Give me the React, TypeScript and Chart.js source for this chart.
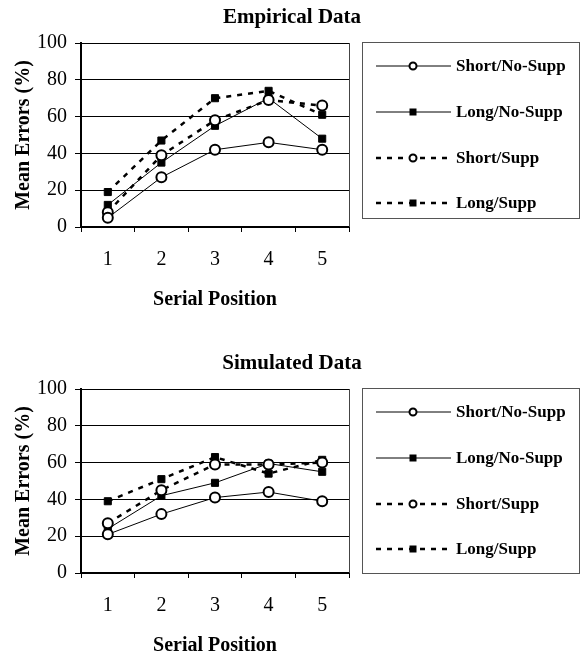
import React, { useEffect, useRef } from 'react';
import { Chart, registerables } from 'chart.js';

Chart.register(...registerables);

// ---------- data ----------
const categories = ['1', '2', '3', '4', '5'];
const seriesNames = ['Short/No-Supp', 'Long/No-Supp', 'Short/Supp', 'Long/Supp'];
const yTicks = [0, 20, 40, 60, 80, 100];

// Empirical Data
const empShortNoSupp = [5, 27, 42, 46, 42];
const empLongNoSupp = [12, 35, 55, 70, 48];
const empShortSupp = [8, 39, 58, 69, 66];
const empLongSupp = [19, 47, 70, 74, 61];

// Simulated Data
const simShortNoSupp = [21, 32, 41, 44, 39];
const simLongNoSupp = [24, 42, 49, 59.5, 55];
const simShortSupp = [27, 45, 59, 59, 60];
const simLongSupp = [39, 51, 63, 54, 61.5];

// ---------- styles ----------
const SERIF = "'Liberation Serif', 'Times New Roman', Times, serif";
const seriesStyles = [
  { dash: [] as number[], width: 1, point: 'circle', fill: '#ffffff' },
  { dash: [] as number[], width: 1, point: 'rect', fill: '#000000' },
  { dash: [5, 6], width: 2.5, point: 'circle', fill: '#ffffff' },
  { dash: [5, 6], width: 2.5, point: 'rect', fill: '#000000' },
];

const decorPlugin = {
  id: 'decor',
  beforeDatasetsDraw(chart: any) {
    const { ctx, chartArea } = chart;
    ctx.save();
    ctx.strokeStyle = '#444';
    ctx.lineWidth = 1;
    ctx.beginPath();
    ctx.moveTo(Math.round(chartArea.right) + 0.5, chartArea.top);
    ctx.lineTo(Math.round(chartArea.right) + 0.5, chartArea.bottom);
    ctx.stroke();
    ctx.restore();
  },
  afterDraw(chart: any, _args: any, opts: any) {
    const { ctx } = chart;
    ctx.save();
    // title
    ctx.fillStyle = '#000';
    ctx.font = `bold 21px ${SERIF}`;
    ctx.textAlign = 'center';
    ctx.textBaseline = 'middle';
    ctx.fillText(opts.title, opts.titleX, opts.titleY);

    // legend box
    ctx.strokeStyle = '#555';
    ctx.lineWidth = 1;
    ctx.strokeRect(opts.boxLeft + 0.5, opts.boxTop + 0.5, opts.boxRight - opts.boxLeft, opts.boxBottom - opts.boxTop);

    const datasets = chart.data.datasets;
    datasets.forEach((ds: any, i: number) => {
      const y = opts.itemY[i];
      ctx.save();
      ctx.strokeStyle = '#000';
      ctx.lineWidth = ds.borderWidth;
      ctx.setLineDash(ds.borderDash || []);
      ctx.beginPath();
      ctx.moveTo(opts.lineX0, y);
      ctx.lineTo(opts.lineX1, y);
      ctx.stroke();
      ctx.setLineDash([]);
      const mx = opts.markerX;
      if (ds.pointStyle === 'circle') {
        ctx.beginPath();
        ctx.arc(mx, y, 3.5, 0, Math.PI * 2);
        ctx.fillStyle = '#fff';
        ctx.fill();
        ctx.lineWidth = 2;
        ctx.stroke();
      } else {
        ctx.fillStyle = '#000';
        ctx.fillRect(mx - 3.5, y - 3.5, 7, 7);
      }
      ctx.restore();
      ctx.fillStyle = '#000';
      ctx.font = `bold 17px ${SERIF}`;
      ctx.textAlign = 'left';
      ctx.textBaseline = 'middle';
      ctx.fillText(ds.label, opts.textX, y + 1);
    });
    ctx.restore();
  },
};

function makeConfig(title: string, values: number[][], boxBottom: number): any {
  return {
    type: 'line',
    data: {
      labels: categories,
      datasets: values.map((vals, i) => {
        const s = seriesStyles[i];
        return {
          label: seriesNames[i],
          data: vals,
          borderColor: '#000',
          borderWidth: s.width,
          borderDash: s.dash,
          pointStyle: s.point,
          pointRadius: 5,
          pointHoverRadius: 5,
          pointBorderWidth: s.point === 'circle' ? 2 : 1,
          pointBackgroundColor: s.fill,
          pointBorderColor: '#000',
          fill: false,
          tension: 0,
          order: s.point === 'circle' ? 0 : 1,
        };
      }),
    },
    options: {
      animation: false,
      responsive: false,
      events: [],
      layout: { padding: { left: 0, right: 232, top: 43, bottom: 0 } },
      plugins: {
        legend: { display: false },
        title: { display: false },
        tooltip: { enabled: false },
        decor: {
          title,
          titleX: 292,
          titleY: 18,
          boxLeft: 362,
          boxRight: 579,
          boxTop: 42,
          boxBottom,
          itemY: [66, 112, 158, 203],
          lineX0: 376,
          lineX1: 451,
          markerX: 413,
          textX: 456,
        },
      },
      scales: {
        x: {
          type: 'category',
          offset: true,
          grid: { offset: true, drawOnChartArea: false, drawTicks: true, tickLength: 5, color: '#000', lineWidth: 1 },
          border: { display: true, color: '#000', width: 2 },
          ticks: { color: '#000', font: { family: SERIF, size: 20 }, padding: 16, maxRotation: 0 },
          title: {
            display: true,
            text: 'Serial Position',
            color: '#000',
            font: { family: SERIF, size: 20, weight: 'bold' },
            padding: { top: 0, bottom: 0 },
          },
          afterFit: (scale: any) => {
            scale.height = 85;
          },
        },
        y: {
          min: 0,
          max: 100,
          afterBuildTicks: (scale: any) => {
            scale.ticks = yTicks.map((v) => ({ value: v }));
          },
          grid: { color: '#000', lineWidth: 1, drawTicks: true, tickLength: 6 },
          border: { display: true, color: '#000', width: 2 },
          ticks: { color: '#000', font: { family: SERIF, size: 20 }, padding: 8 },
          title: {
            display: true,
            text: 'Mean Errors (%)',
            color: '#000',
            font: { family: SERIF, size: 20, weight: 'bold' },
            padding: { top: 12, bottom: 0 },
          },
          afterFit: (scale: any) => {
            scale.width = 81;
          },
        },
      },
    },
    plugins: [decorPlugin],
  };
}

function ChartCanvas({ title, values, boxBottom, top }: { title: string; values: number[][]; boxBottom: number; top: number }) {
  const ref = useRef<HTMLCanvasElement | null>(null);
  useEffect(() => {
    if (!ref.current) return;
    const chart = new Chart(ref.current, makeConfig(title, values, boxBottom));
    return () => chart.destroy();
  }, []);
  return (
    <canvas
      ref={ref}
      width={581}
      height={312}
      style={{ position: 'absolute', left: 0, top, width: 581, height: 312, display: 'block' }}
    />
  );
}

export default function App() {
  useEffect(() => {
    document.body.style.margin = '0';
    document.body.style.background = '#fff';
  }, []);
  return (
    <div style={{ position: 'relative', width: 581, height: 655, background: '#fff', overflow: 'hidden' }}>
      <ChartCanvas
        title="Empirical Data"
        values={[empShortNoSupp, empLongNoSupp, empShortSupp, empLongSupp]}
        boxBottom={218}
        top={0}
      />
      <ChartCanvas
        title="Simulated Data"
        values={[simShortNoSupp, simLongNoSupp, simShortSupp, simLongSupp]}
        boxBottom={227}
        top={346}
      />
    </div>
  );
}
